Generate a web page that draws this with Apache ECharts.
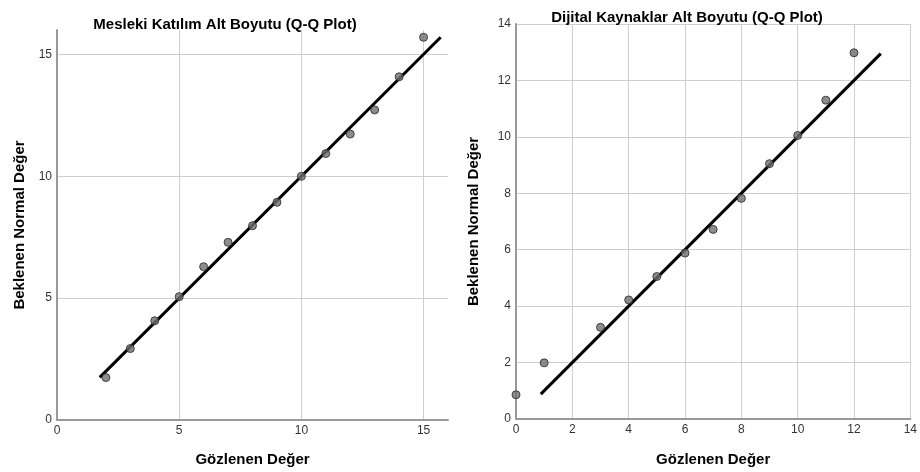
<!DOCTYPE html>
<html>
<head>
<meta charset="utf-8">
<script src="https://cdn.jsdelivr.net/npm/echarts@6/dist/echarts.min.js"></script>
<style>
html,body{margin:0;padding:0;background:#fff;}
#c{width:920px;height:472px;}
</style>
</head>
<body>
<div id="c"></div>
<script>
const titles = ['Mesleki Katılım Alt Boyutu (Q-Q Plot)', 'Dijital Kaynaklar Alt Boyutu (Q-Q Plot)'];
const xName = 'Gözlenen Değer';
const yName = 'Beklenen Normal Değer';

const leftObserved = [2, 3, 4, 5, 6, 7, 8, 9, 10, 11, 12, 13, 14, 15];
const leftExpected = [1.74, 2.93, 4.07, 5.06, 6.29, 7.29, 7.97, 8.93, 10.0, 10.93, 11.73, 12.72, 14.08, 15.7];
const leftLineX = [1.75, 15.7];
const leftLineY = [1.75, 15.7];

const rightObserved = [0, 1, 3, 4, 5, 6, 7, 8, 9, 10, 11, 12];
const rightExpected = [0.86, 1.99, 3.25, 4.22, 5.05, 5.88, 6.72, 7.82, 9.05, 10.05, 11.3, 12.98];
const rightLineX = [0.88, 12.95];
const rightLineY = [0.88, 12.95];

const leftAxisMax = 16, leftInterval = 5;
const rightAxisMax = 14, rightInterval = 2;

const zip = (a, b) => a.map((v, i) => [v, b[i]]);
const FONT = 'Liberation Sans, Arial, sans-serif';

function xAxis(idx, max, interval, gap) {
  return {
    type: 'value', gridIndex: idx, min: 0, max: max, interval: interval,
    name: xName, nameLocation: 'middle', nameGap: gap,
    nameTextStyle: { fontFamily: FONT, fontWeight: 'bold', fontSize: 15, color: '#000' },
    axisLine: { show: true, onZero: false, lineStyle: { color: '#999', width: 2 } },
    axisTick: { show: false },
    axisLabel: { fontFamily: FONT, fontSize: 12, color: '#333', margin: 5, showMaxLabel: max % interval === 0 },
    splitLine: { show: true, showMinLine: false, showMaxLine: max % interval === 0, lineStyle: { color: '#cfcfcf', width: 1 } }
  };
}
function yAxis(idx, max, interval, gap) {
  return {
    type: 'value', gridIndex: idx, min: 0, max: max, interval: interval,
    name: yName, nameLocation: 'middle', nameGap: gap,
    nameTextStyle: { fontFamily: FONT, fontWeight: 'bold', fontSize: 15, color: '#000' },
    axisLine: { show: true, onZero: false, lineStyle: { color: '#999', width: 2 } },
    axisTick: { show: false },
    axisLabel: { fontFamily: FONT, fontSize: 12, color: '#333', margin: 5, showMaxLabel: max % interval === 0 },
    splitLine: { show: true, showMinLine: false, showMaxLine: max % interval === 0, lineStyle: { color: '#cfcfcf', width: 1 } }
  };
}
const pointStyle = { color: '#6f6f6f', borderColor: '#262626', borderWidth: 1 };
const lineStyle = { color: '#000', width: 3 };

const chart = echarts.init(document.getElementById('c'), null, { renderer: 'canvas' });
chart.setOption({
  backgroundColor: '#fff',
  animation: false,
  title: [
    { text: titles[0], left: 220, top: 12, textAlign: 'center',
      textStyle: { fontFamily: FONT, fontWeight: 'bold', fontSize: 15, color: '#000' } },
    { text: titles[1], left: 682, top: 5, textAlign: 'center',
      textStyle: { fontFamily: FONT, fontWeight: 'bold', fontSize: 15, color: '#000' } }
  ],
  grid: [
    { left: 57, top: 30, width: 391, height: 392, containLabel: false },
    { left: 516, top: 24, width: 397, height: 396, containLabel: false }
  ],
  xAxis: [ xAxis(0, leftAxisMax, leftInterval, 32), xAxis(1, rightAxisMax, rightInterval, 33) ],
  yAxis: [ yAxis(0, leftAxisMax, leftInterval, 30), yAxis(1, rightAxisMax, rightInterval, 35) ],
  series: [
    { type: 'line', xAxisIndex: 0, yAxisIndex: 0, data: zip(leftLineX, leftLineY), showSymbol: false, symbol: 'none', lineStyle: lineStyle, z: 2 },
    { type: 'scatter', xAxisIndex: 0, yAxisIndex: 0, data: zip(leftObserved, leftExpected), symbolSize: 8, itemStyle: pointStyle, z: 3 },
    { type: 'line', xAxisIndex: 1, yAxisIndex: 1, data: zip(rightLineX, rightLineY), showSymbol: false, symbol: 'none', lineStyle: lineStyle, z: 2 },
    { type: 'scatter', xAxisIndex: 1, yAxisIndex: 1, data: zip(rightObserved, rightExpected), symbolSize: 8, itemStyle: pointStyle, z: 3 }
  ]
});
</script>
</body>
</html>
